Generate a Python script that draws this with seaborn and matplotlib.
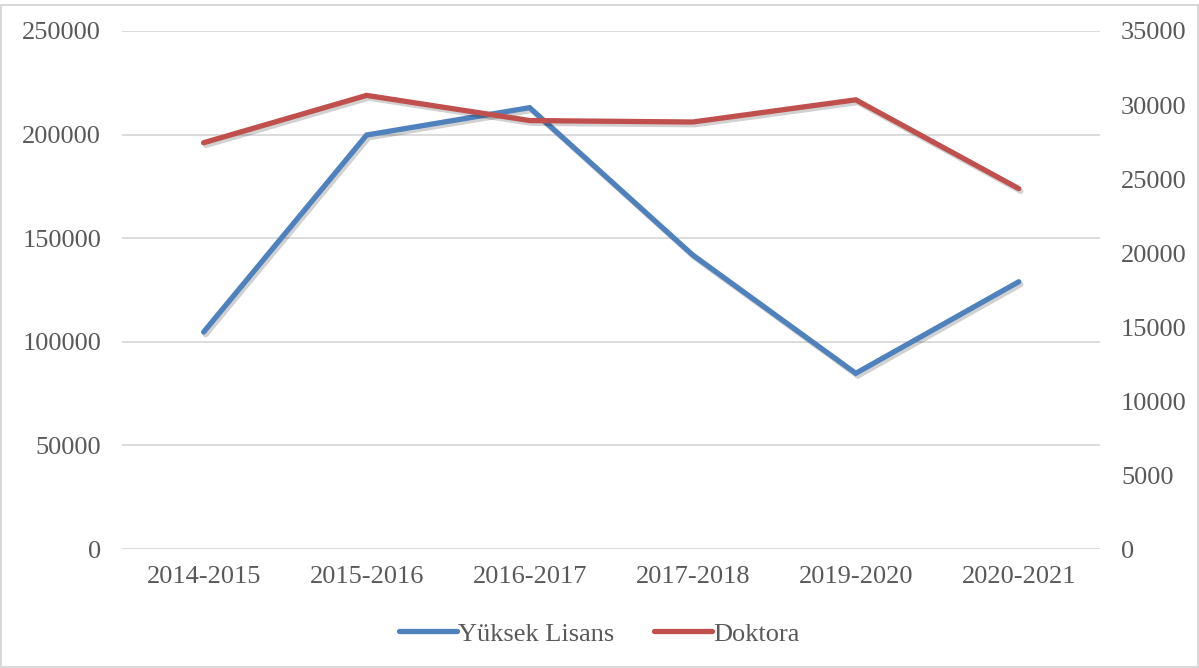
import numpy as np
import pandas as pd
import matplotlib
matplotlib.use("Agg")
import matplotlib.pyplot as plt
import matplotlib.patheffects as pe
from matplotlib.lines import Line2D
from matplotlib.patches import Rectangle
import seaborn as sns

YEARS = ["2014-2015", "2015-2016", "2016-2017", "2017-2018", "2019-2020", "2020-2021"]
YUKSEK_LISANS = [104700, 199800, 213000, 141900, 84800, 129000]
DOKTORA = [27450, 30650, 28950, 28850, 30350, 24350]

BLUE = "#4f81bd"
RED = "#c0504d"
GRID = "#d9d9d9"
TEXT = "#595959"

sns.set_theme(style="white")
plt.rcParams["font.family"] = ["Liberation Serif", "DejaVu Serif"]

df = pd.DataFrame({"year": YEARS, "yl": YUKSEK_LISANS, "dr": DOKTORA})

fig = plt.figure(figsize=(11.99, 6.68), dpi=100)
ax = fig.add_axes([0.1018, 0.1781, 0.8159, 0.7755])
ax2 = ax.twinx()

# soft drop shadow like the office chart
shadow = [pe.SimpleLineShadow(offset=(1.5, -2.0), alpha=0.18, shadow_color="#000000"), pe.Normal()]

sns.lineplot(data=df, x="year", y="yl", ax=ax, color=BLUE, linewidth=3.8,
             sort=False, solid_capstyle="round", solid_joinstyle="miter",
             path_effects=shadow, zorder=3)
sns.lineplot(data=df, x="year", y="dr", ax=ax2, color=RED, linewidth=3.8,
             sort=False, solid_capstyle="round", solid_joinstyle="miter",
             path_effects=shadow, zorder=3)

ax.set_xlim(-0.5, len(YEARS) - 0.5)
ax.set_ylim(0, 250000)
ax2.set_ylim(0, 35000)
ax.set_yticks(np.arange(0, 250001, 50000))
ax2.set_yticks(np.arange(0, 35001, 5000))

ax.yaxis.grid(True, color=GRID, linewidth=1.3)
ax.set_axisbelow(True)
for a in (ax, ax2):
    for s in a.spines.values():
        s.set_visible(False)
    a.set_xlabel("")
    a.set_ylabel("")
ax.tick_params(axis="y", labelsize=19, labelcolor=TEXT, length=0, pad=15)
ax2.tick_params(axis="y", labelsize=19, labelcolor=TEXT, length=0, pad=15)
ax.tick_params(axis="x", labelsize=19, labelcolor=TEXT, length=0, pad=12)
ax2.yaxis.set_ticks_position("right")

handles = [
    Line2D([], [], color=BLUE, linewidth=3.8, solid_capstyle="round"),
    Line2D([], [], color=RED, linewidth=3.8, solid_capstyle="round"),
]
leg = fig.legend(handles, ["Yüksek Lisans", "Doktora"], loc="center",
                 bbox_to_anchor=(0.5, 0.051), ncol=2, frameon=False,
                 fontsize=19, handlelength=2.2, handletextpad=0.05,
                 columnspacing=1.5)
for t in leg.get_texts():
    t.set_color(TEXT)

fig.patches.append(Rectangle((0.001, 0.001), 0.998, 0.992, transform=fig.transFigure,
                             fill=False, edgecolor=GRID, linewidth=1.5))

fig.savefig("out.png", dpi=100, facecolor="white")
